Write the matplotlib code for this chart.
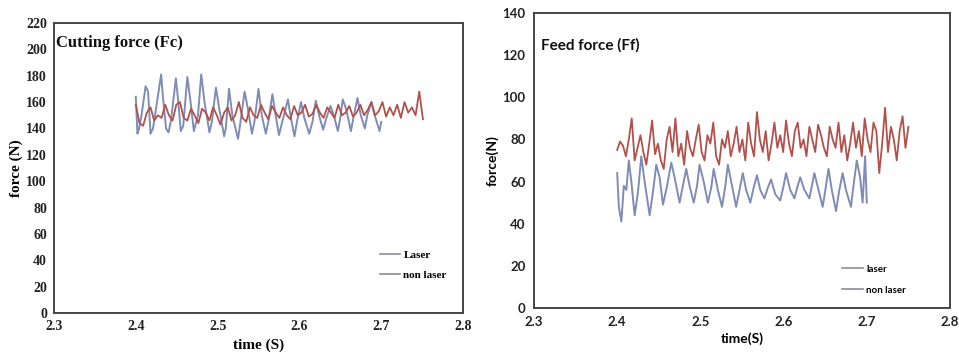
import numpy as np
import matplotlib
matplotlib.use("Agg")
import matplotlib.pyplot as plt
from matplotlib.lines import Line2D

# ---------------- data: Cutting force (Fc) ----------------
fc_laser_t = [2.400, 2.402, 2.404, 2.407, 2.412, 2.415, 2.418, 2.421, 2.424, 2.431,
              2.433, 2.437, 2.440, 2.443, 2.449, 2.452, 2.455, 2.458, 2.463, 2.467,
              2.471, 2.476, 2.480, 2.484, 2.490, 2.493, 2.498, 2.502, 2.508, 2.510,
              2.514, 2.518, 2.525, 2.528, 2.533, 2.537, 2.542, 2.545, 2.550, 2.554,
              2.559, 2.562, 2.567, 2.571, 2.575, 2.579, 2.586, 2.589, 2.594, 2.597,
              2.602, 2.606, 2.612, 2.616, 2.620, 2.624, 2.629, 2.633, 2.638, 2.642,
              2.647, 2.650, 2.653, 2.657, 2.663, 2.666, 2.671, 2.675, 2.680, 2.683,
              2.688, 2.692, 2.698, 2.700]
fc_laser_v = [164, 136, 140, 150, 172, 168, 136, 140, 152, 181,
              165, 140, 137, 146, 178, 160, 138, 142, 179, 160,
              138, 150, 181, 160, 137, 145, 171, 155, 134, 140,
              170, 150, 132, 145, 168, 155, 136, 145, 170, 150,
              136, 145, 166, 150, 135, 145, 162, 150, 134, 145,
              160, 148, 136, 145, 161, 150, 139, 148, 157, 150,
              138, 148, 162, 155, 138, 148, 163, 150, 140, 150,
              160, 150, 138, 145]

fc_nonlaser_t0 = 2.400
fc_nonlaser_dt = 0.0045
fc_nonlaser_v = [158, 144, 142, 152, 156, 146, 150, 148, 158, 150,
                 146, 158, 160, 148, 146, 155, 150, 144, 155, 152,
                 146, 156, 150, 143, 152, 156, 146, 150, 160, 148,
                 145, 156, 150, 148, 158, 152, 147, 157, 152, 148,
                 156, 150, 147, 157, 150, 152, 158, 149, 151, 158,
                 152, 148, 156, 152, 148, 158, 150, 152, 157, 149,
                 152, 158, 150, 154, 160, 150, 153, 160, 149, 156,
                 150, 158, 148, 160, 152, 156, 150, 168, 147]

# ---------------- data: Feed force (Ff) ----------------
ff_laser_t = [2.400, 2.402, 2.405, 2.408, 2.411, 2.414, 2.417, 2.421, 2.425, 2.429,
              2.433, 2.439, 2.443, 2.447, 2.451, 2.455, 2.460, 2.465, 2.469, 2.475,
              2.479, 2.483, 2.487, 2.492, 2.496, 2.499, 2.504, 2.509, 2.513, 2.516,
              2.521, 2.526, 2.530, 2.533, 2.538, 2.543, 2.547, 2.551, 2.555, 2.560,
              2.564, 2.568, 2.572, 2.577, 2.581, 2.585, 2.590, 2.596, 2.600, 2.603,
              2.608, 2.613, 2.617, 2.620, 2.625, 2.631, 2.634, 2.637, 2.642, 2.647,
              2.651, 2.654, 2.658, 2.663, 2.667, 2.671, 2.675, 2.681, 2.684, 2.688,
              2.692, 2.695, 2.698, 2.700]
ff_laser_v = [64, 48, 41, 58, 56, 70, 60, 44, 55, 72,
              60, 44, 55, 68, 62, 49, 58, 69, 62, 50,
              58, 66, 58, 50, 58, 68, 60, 50, 57, 66,
              56, 48, 58, 68, 58, 48, 56, 64, 56, 50,
              57, 63, 56, 52, 57, 61, 54, 51, 58, 64,
              56, 52, 58, 62, 56, 52, 58, 64, 56, 48,
              58, 66, 56, 46, 56, 64, 56, 48, 58, 70,
              62, 50, 72, 50]

ff_nonlaser_t0 = 2.400
ff_nonlaser_dt = 0.0035
ff_nonlaser_v = [75, 79, 77, 72, 80, 90, 70, 76, 82, 74,
                 68, 78, 89, 73, 78, 70, 66, 80, 86, 74,
                 90, 72, 78, 68, 84, 76, 72, 80, 87, 74,
                 70, 82, 78, 88, 72, 68, 80, 76, 84, 72,
                 78, 86, 74, 80, 70, 88, 78, 72, 93, 80,
                 74, 84, 70, 78, 88, 76, 82, 74, 89, 78,
                 72, 84, 88, 76, 80, 72, 86, 80, 74, 87,
                 82, 76, 72, 86, 80, 76, 88, 74, 82, 70,
                 78, 88, 76, 84, 72, 90, 80, 74, 88, 84,
                 64, 78, 95, 74, 86, 80, 70, 84, 91, 76,
                 86]

x_ticks = [2.3, 2.4, 2.5, 2.6, 2.7, 2.8]
fc_yticks = list(range(0, 221, 20))
ff_yticks = list(range(0, 141, 20))

BLUE = "#7f8cb6"
RED = "#b2514b"
SPINE = "#444444"

fig = plt.figure(figsize=(9.59, 3.58), dpi=100)

# ---------------- left panel ----------------
serif = "Liberation Serif"
ax1 = fig.add_axes([0.0563, 0.1257, 0.4265, 0.8101])
fc_nl_t = fc_nonlaser_t0 + fc_nonlaser_dt * np.arange(len(fc_nonlaser_v))
ax1.plot(fc_laser_t, fc_laser_v, color=BLUE, lw=1.4)
ax1.plot(fc_nl_t, fc_nonlaser_v, color=RED, lw=1.3)
ax1.set_xlim(2.3, 2.8)
ax1.set_ylim(0, 220)
ax1.set_xticks(x_ticks)
ax1.set_yticks(fc_yticks)
ax1.set_xticklabels([f"{v:.1f}" for v in x_ticks], fontfamily=serif, fontweight="bold", fontsize=10)
ax1.set_yticklabels([str(v) for v in fc_yticks], fontfamily=serif, fontweight="bold", fontsize=10)
ax1.tick_params(length=0, pad=5, colors="#222222")
for s in ax1.spines.values():
    s.set_color(SPINE)
    s.set_linewidth(1.4)
ax1.set_xlabel("time (S)", fontfamily=serif, fontweight="bold", fontsize=11, labelpad=4)
ax1.set_ylabel("force (N)", fontfamily=serif, fontweight="bold", fontsize=11, labelpad=2)
ax1.text(0.005, 0.93, "Cutting force (Fc)", transform=ax1.transAxes, ha="left", va="center",
         fontfamily=serif, fontweight="bold", fontsize=12, color="#111111")
h1 = [Line2D([], [], color="#8a8e9c", lw=1.2), Line2D([], [], color="#8e8a98", lw=1.2)]
ax1.legend(h1, ["Laser", "non laser"], loc="lower right", bbox_to_anchor=(0.985, 0.08),
           frameon=False, handlelength=1.8, handletextpad=0.3, labelspacing=0.9,
           prop={"family": serif, "weight": "bold", "size": 8})

# ---------------- right panel ----------------
sans = "Lato"
ax2 = fig.add_axes([0.5568, 0.1397, 0.4338, 0.8240])
ff_nl_t = ff_nonlaser_t0 + ff_nonlaser_dt * np.arange(len(ff_nonlaser_v))
ax2.plot(ff_laser_t, ff_laser_v, color=BLUE, lw=1.4)
ax2.plot(ff_nl_t, ff_nonlaser_v, color=RED, lw=1.3)
ax2.set_xlim(2.3, 2.8)
ax2.set_ylim(0, 140)
ax2.set_xticks(x_ticks)
ax2.set_yticks(ff_yticks)
ax2.set_xticklabels([f"{v:.1f}" for v in x_ticks], fontfamily=sans, fontweight="bold", fontsize=9.5)
ax2.set_yticklabels([str(v) for v in ff_yticks], fontfamily=sans, fontweight="bold", fontsize=9.5)
ax2.tick_params(length=0, pad=6, colors="#222222")
for s in ax2.spines.values():
    s.set_color(SPINE)
    s.set_linewidth(1.4)
ax2.set_xlabel("time(S)", fontfamily=sans, fontweight="bold", fontsize=10, labelpad=3)
ax2.set_ylabel("force(N)", fontfamily=sans, fontweight="bold", fontsize=10, labelpad=3)
ax2.text(0.018, 0.89, "Feed force (Ff)", transform=ax2.transAxes, ha="left", va="center",
         fontfamily=sans, fontweight="bold", fontsize=11, color="#111111")
h2 = [Line2D([], [], color="#8a8e9c", lw=1.2), Line2D([], [], color="#8e8a98", lw=1.2)]
ax2.legend(h2, ["laser", "non laser"], loc="lower right", bbox_to_anchor=(0.915, 0.015),
           frameon=False, handlelength=2.2, handletextpad=0.3, labelspacing=1.25,
           prop={"family": sans, "weight": "bold", "size": 7})

fig.savefig("out.png", dpi=100)
